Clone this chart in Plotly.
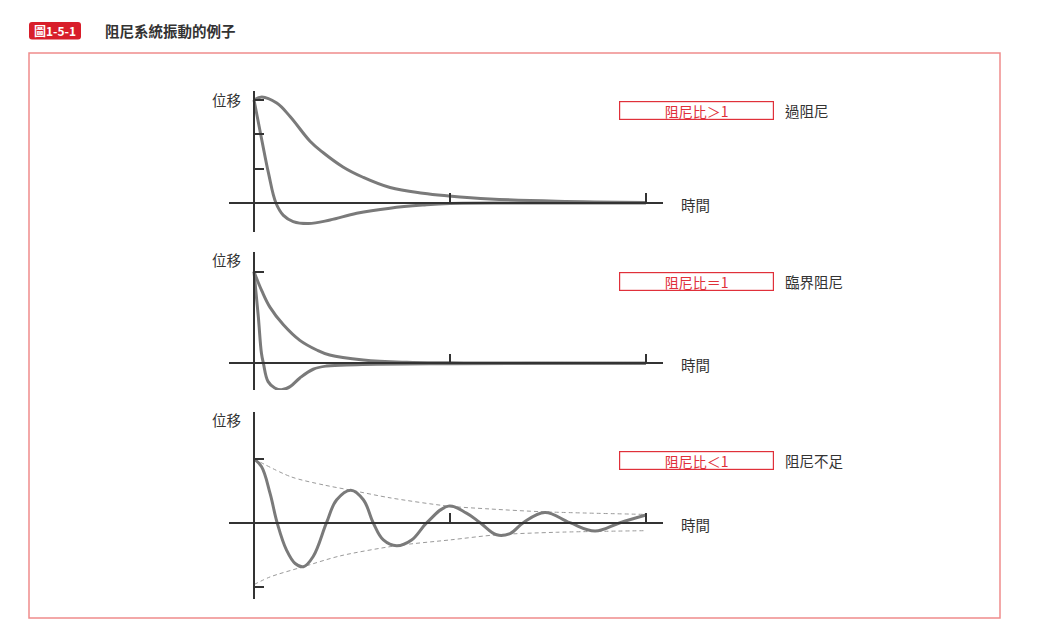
import plotly.graph_objects as go

W, H = 1064, 635

# ---------------- data ----------------
# time axis: 0..10 (ticks at 5 and 10), displacement normalized to initial value 1
over_slow_t = [0, 0.2, 0.58, 0.92, 1.43, 1.76, 2.27, 2.78, 3.47, 4.31, 4.97, 6.02, 7.73, 10]
over_slow_y = [1.0, 1.03, 0.97, 0.84, 0.60, 0.49, 0.35, 0.25, 0.15, 0.094, 0.068, 0.039, 0.017, 0.005]
over_fast_t = [0, 0.2, 0.37, 0.56, 0.75, 1.0, 1.39, 1.94, 2.62, 3.47, 4.32, 5.0, 7.0, 10]
over_fast_y = [1.0, 0.61, 0.29, 0.0, -0.12, -0.18, -0.20, -0.165, -0.10, -0.05, -0.02, -0.005, -0.001, 0.0]

crit_slow_t = [0, 0.2, 0.41, 0.75, 1.17, 1.6, 1.93, 2.79, 3.9, 5.0, 7.0, 10]
crit_slow_y = [1.0, 0.79, 0.61, 0.42, 0.25, 0.145, 0.09, 0.036, 0.011, 0.005, 0.002, 0.0]
crit_fast_t = [0, 0.11, 0.19, 0.24, 0.36, 0.53, 0.70, 0.92, 1.17, 1.51, 1.85, 2.62, 5.0, 10]
crit_fast_y = [1.0, 0.51, 0.11, 0.0, -0.20, -0.27, -0.29, -0.255, -0.16, -0.065, -0.03, -0.015, -0.004, 0.0]

under_t = [0, 0.19, 0.41, 0.59, 0.83, 1.05, 1.26, 1.51, 1.85, 2.11, 2.47, 2.79, 3.04, 3.3, 3.64,
           4.02, 4.41, 4.96, 5.42, 5.77, 6.19, 6.53, 6.87, 7.42, 8.06, 8.70, 9.34, 10]
under_y = [1.0, 0.88, 0.46, 0.0, -0.43, -0.64, -0.69, -0.53, 0.0, 0.36, 0.51, 0.36, 0.0, -0.27, -0.36,
           -0.27, 0.0, 0.26, 0.15, 0.0, -0.19, -0.17, 0.0, 0.16, 0.0, -0.13, 0.0, 0.12]
env_up_t = [0, 0.94, 1.79, 2.47, 3.47, 4.96, 6.02, 7.42, 10]
env_up_y = [1.0, 0.72, 0.59, 0.51, 0.39, 0.26, 0.215, 0.17, 0.13]
env_lo_t = [0, 0.41, 1.26, 2.2, 3.64, 5.0, 6.19, 7.72, 10]
env_lo_y = [-0.97, -0.85, -0.69, -0.52, -0.36, -0.27, -0.19, -0.15, -0.125]

x_ticks = [5, 10]
y_ticks = [[1.0, 0.67, 0.33], [1.0], [1.0, -1.0]]
ratio_labels = ["阻尼比＞1", "阻尼比＝1", "阻尼比＜1"]
type_labels = ["過阻尼", "臨界阻尼", "阻尼不足"]
y_title = "位移"
x_title = "時間"
fig_no = "圖1-5-1"
fig_title = "阻尼系統振動的例子"

# ---------------- layout helpers (pixel -> paper) ----------------
def px(x):
    return x / W

def py(y):
    return 1 - y / H

FONT = "Noto Sans CJK TC, Noto Sans CJK SC, sans-serif"
CURVE = "#7a7a7a"
AXIS = "#333333"
RED = "#e0303a"

X_LEFT, X_RIGHT, X0 = 229, 663, 254      # pixel extents of time axis, pixel of t=0
X_SCALE = (646 - 254) / 10.0              # px per time unit

panels = [  # top, bottom, zero line (px), px per unit
    dict(top=91, bottom=232, zero=203, scale=103.0),
    dict(top=252, bottom=390, zero=363.3, scale=91.6),
    dict(top=412, bottom=599, zero=522.7, scale=63.8),
]

fig = go.Figure()

series = [
    [(over_slow_t, over_slow_y, "solid"), (over_fast_t, over_fast_y, "solid")],
    [(crit_slow_t, crit_slow_y, "solid"), (crit_fast_t, crit_fast_y, "solid")],
    [(env_up_t, env_up_y, "dash"), (env_lo_t, env_lo_y, "dash"), (under_t, under_y, "solid")],
]

layout = {}
annotations = []
for i, p in enumerate(panels):
    n = "" if i == 0 else str(i + 1)
    xa, ya = "x" + n, "y" + n
    xr = [(X_LEFT - X0) / X_SCALE, (X_RIGHT - X0) / X_SCALE]
    yr = [(p["zero"] - p["bottom"]) / p["scale"], (p["zero"] - p["top"]) / p["scale"]]
    layout["xaxis" + n] = dict(
        domain=[px(X_LEFT), px(X_RIGHT)], range=xr, anchor="free", position=py(p["zero"]),
        showline=True, linecolor=AXIS, linewidth=1.5, showgrid=False, zeroline=False,
        tickmode="array", tickvals=x_ticks, ticks="inside", ticklen=9, tickwidth=1.5,
        tickcolor=AXIS, showticklabels=False, fixedrange=True,
    )
    layout["yaxis" + n] = dict(
        domain=[py(p["bottom"]), py(p["top"])], range=yr, anchor="free", position=px(X0),
        showline=True, linecolor=AXIS, linewidth=1.5, showgrid=False, zeroline=False,
        tickmode="array", tickvals=y_ticks[i], ticks="inside", ticklen=9, tickwidth=1.5,
        tickcolor=AXIS, showticklabels=False, fixedrange=True,
    )
    for t, y, dash in series[i]:
        if dash == "dash":
            line = dict(color="#9a9a9a", width=1, dash="4px,3px", shape="spline", smoothing=0.8)
        else:
            line = dict(color=CURVE, width=3, shape="spline", smoothing=1.1)
        fig.add_trace(go.Scatter(x=t, y=y, mode="lines", line=line, xaxis=xa, yaxis=ya,
                                 hoverinfo="skip", showlegend=False))

# text labels
label_y = [100, 260, 419]
time_y = [204, 364, 524]
box_c = [110, 281.5, 460]
for i in range(3):
    annotations.append(dict(x=px(226), y=py(label_y[i]), xref="paper", yref="paper",
                            text=y_title, showarrow=False, xanchor="center", yanchor="middle",
                            font=dict(family=FONT, size=14.5, color="#333")))
    annotations.append(dict(x=px(695), y=py(time_y[i]), xref="paper", yref="paper",
                            text=x_title, showarrow=False, xanchor="center", yanchor="middle",
                            font=dict(family=FONT, size=14.5, color="#333")))
    annotations.append(dict(x=px(618.5), y=py(box_c[i]), xref="paper", yref="paper",
                            text=ratio_labels[i], showarrow=False, xanchor="left", yanchor="middle",
                            width=153, height=17, align="center", valign="middle",
                            bordercolor=RED, borderwidth=1.2, borderpad=0,
                            font=dict(family=FONT, size=14, color=RED)))
    annotations.append(dict(x=px(783), y=py(box_c[i]), xref="paper", yref="paper",
                            text=type_labels[i], showarrow=False, xanchor="left", yanchor="middle",
                            font=dict(family=FONT, size=14.5, color="#333")))

# title
annotations.append(dict(x=px(55), y=py(31), xref="paper", yref="paper",
                        text="<b>" + fig_no + "</b>", showarrow=False, xanchor="center", yanchor="middle",
                        font=dict(family=FONT, size=12, color="white")))
annotations.append(dict(x=px(103), y=py(30), xref="paper", yref="paper",
                        text="<b>" + fig_title + "</b>", showarrow=False, xanchor="left", yanchor="middle",
                        font=dict(family=FONT, size=14.5, color="#333")))

# rounded badge
bx0, bx1, by0, by1, r = 29, 81, 22, 39.5, 3
path = (f"M {px(bx0 + r)},{py(by0)} L {px(bx1 - r)},{py(by0)} "
        f"Q {px(bx1)},{py(by0)} {px(bx1)},{py(by0 + r)} L {px(bx1)},{py(by1 - r)} "
        f"Q {px(bx1)},{py(by1)} {px(bx1 - r)},{py(by1)} L {px(bx0 + r)},{py(by1)} "
        f"Q {px(bx0)},{py(by1)} {px(bx0)},{py(by1 - r)} L {px(bx0)},{py(by0 + r)} "
        f"Q {px(bx0)},{py(by0)} {px(bx0 + r)},{py(by0)} Z")
shapes = [
    dict(type="path", path=path, xref="paper", yref="paper", fillcolor="#d81e2a", line=dict(width=0)),
    dict(type="rect", xref="paper", yref="paper", x0=px(29), x1=px(1000), y0=py(53), y1=py(618),
         line=dict(color="#f08c8c", width=1.5), fillcolor="rgba(0,0,0,0)", layer="below"),
]

fig.update_layout(
    width=W, height=H, margin=dict(l=0, r=0, t=0, b=0),
    paper_bgcolor="white", plot_bgcolor="rgba(0,0,0,0)",
    showlegend=False, annotations=annotations, shapes=shapes,
    font=dict(family=FONT),
    **layout,
)

fig.write_html("out.html", config={"displayModeBar": False})
